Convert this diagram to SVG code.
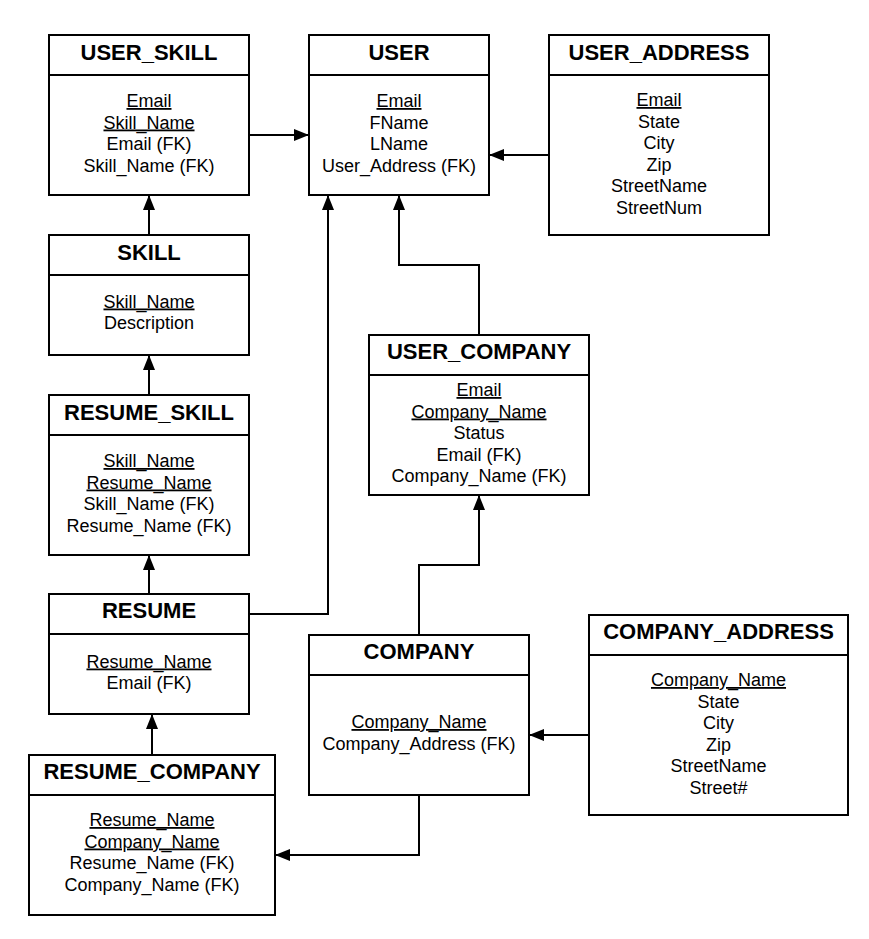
<svg xmlns="http://www.w3.org/2000/svg" width="869" height="939" viewBox="0 0 869 939">
<style>
  .box { fill: #ffffff; stroke: #000000; stroke-width: 2; }
  .div { stroke: #000000; stroke-width: 2; }
  .title { font-family: "Liberation Sans", Arial, sans-serif; font-weight: bold; font-size: 22px; text-anchor: middle; fill: #000; }
  .attr { font-family: "Liberation Sans", Arial, sans-serif; font-size: 18px; text-anchor: middle; fill: #000; }
  .pk { text-decoration: underline; }
  .conn { fill: none; stroke: #000000; stroke-width: 2; marker-end: url(#arrow); }
</style>
<defs>
  <marker id="arrow" viewBox="0 0 15 12" refX="15" refY="6" markerWidth="15" markerHeight="12" markerUnits="userSpaceOnUse" orient="auto">
    <path d="M0,0 L15,6 L0,12 z" fill="#000000"/>
  </marker>
</defs>
<rect x="0" y="0" width="869" height="939" fill="#ffffff"/>

<g id="connectors">
  <path class="conn" d="M249,135 L309,135"/>
  <path class="conn" d="M549,155 L489,155"/>
  <path class="conn" d="M149,235 L149,195"/>
  <path class="conn" d="M149,395 L149,355"/>
  <path class="conn" d="M149,594 L149,555"/>
  <path class="conn" d="M249,614 L328,614 L328,195"/>
  <path class="conn" d="M479,335 L479,265 L399,265 L399,195"/>
  <path class="conn" d="M419,635 L419,565 L479,565 L479,495"/>
  <path class="conn" d="M589,735 L529,735"/>
  <path class="conn" d="M152,755 L152,714"/>
  <path class="conn" d="M419,795 L419,855 L275,855"/>
</g>

<g id="user_skill">
  <rect class="box" x="49" y="35" width="200" height="160"/>
  <line class="div" x1="49" y1="75" x2="249" y2="75"/>
  <text class="title" x="149" y="60">USER_SKILL</text>
  <text class="attr pk" x="149" y="107">Email</text>
  <text class="attr pk" x="149" y="128.5">Skill_Name</text>
  <text class="attr" x="149" y="150">Email (FK)</text>
  <text class="attr" x="149" y="171.5">Skill_Name (FK)</text>
</g>

<g id="user">
  <rect class="box" x="309" y="35" width="180" height="160"/>
  <line class="div" x1="309" y1="75" x2="489" y2="75"/>
  <text class="title" x="399" y="60">USER</text>
  <text class="attr pk" x="399" y="107">Email</text>
  <text class="attr" x="399" y="128.5">FName</text>
  <text class="attr" x="399" y="150">LName</text>
  <text class="attr" x="399" y="171.5">User_Address (FK)</text>
</g>

<g id="user_address">
  <rect class="box" x="549" y="35" width="220" height="200"/>
  <line class="div" x1="549" y1="75" x2="769" y2="75"/>
  <text class="title" x="659" y="60">USER_ADDRESS</text>
  <text class="attr pk" x="659" y="106">Email</text>
  <text class="attr" x="659" y="127.5">State</text>
  <text class="attr" x="659" y="149">City</text>
  <text class="attr" x="659" y="170.5">Zip</text>
  <text class="attr" x="659" y="192">StreetName</text>
  <text class="attr" x="659" y="213.5">StreetNum</text>
</g>

<g id="skill">
  <rect class="box" x="49" y="235" width="200" height="120"/>
  <line class="div" x1="49" y1="275" x2="249" y2="275"/>
  <text class="title" x="149" y="260">SKILL</text>
  <text class="attr pk" x="149" y="307.5">Skill_Name</text>
  <text class="attr" x="149" y="329">Description</text>
</g>

<g id="resume_skill">
  <rect class="box" x="49" y="395" width="200" height="160"/>
  <line class="div" x1="49" y1="435" x2="249" y2="435"/>
  <text class="title" x="149" y="420">RESUME_SKILL</text>
  <text class="attr pk" x="149" y="467">Skill_Name</text>
  <text class="attr pk" x="149" y="488.5">Resume_Name</text>
  <text class="attr" x="149" y="510">Skill_Name (FK)</text>
  <text class="attr" x="149" y="531.5">Resume_Name (FK)</text>
</g>

<g id="user_company">
  <rect class="box" x="369" y="335" width="220" height="160"/>
  <line class="div" x1="369" y1="375" x2="589" y2="375"/>
  <text class="title" x="479" y="359">USER_COMPANY</text>
  <text class="attr pk" x="479" y="396">Email</text>
  <text class="attr pk" x="479" y="417.5">Company_Name</text>
  <text class="attr" x="479" y="439">Status</text>
  <text class="attr" x="479" y="460.5">Email (FK)</text>
  <text class="attr" x="479" y="482">Company_Name (FK)</text>
</g>

<g id="resume">
  <rect class="box" x="49" y="594" width="200" height="120"/>
  <line class="div" x1="49" y1="634" x2="249" y2="634"/>
  <text class="title" x="149" y="618">RESUME</text>
  <text class="attr pk" x="149" y="667.5">Resume_Name</text>
  <text class="attr" x="149" y="689">Email (FK)</text>
</g>

<g id="company">
  <rect class="box" x="309" y="635" width="220" height="160"/>
  <line class="div" x1="309" y1="675" x2="529" y2="675"/>
  <text class="title" x="419" y="659">COMPANY</text>
  <text class="attr pk" x="419" y="728">Company_Name</text>
  <text class="attr" x="419" y="749.5">Company_Address (FK)</text>
</g>

<g id="company_address">
  <rect class="box" x="589" y="615" width="259" height="200"/>
  <line class="div" x1="589" y1="655" x2="848" y2="655"/>
  <text class="title" x="718.5" y="639">COMPANY_ADDRESS</text>
  <text class="attr pk" x="718.5" y="686">Company_Name</text>
  <text class="attr" x="718.5" y="707.5">State</text>
  <text class="attr" x="718.5" y="729">City</text>
  <text class="attr" x="718.5" y="750.5">Zip</text>
  <text class="attr" x="718.5" y="772">StreetName</text>
  <text class="attr" x="718.5" y="793.5">Street#</text>
</g>

<g id="resume_company">
  <rect class="box" x="29" y="755" width="246" height="160"/>
  <line class="div" x1="29" y1="795" x2="275" y2="795"/>
  <text class="title" x="152" y="779">RESUME_COMPANY</text>
  <text class="attr pk" x="152" y="826">Resume_Name</text>
  <text class="attr pk" x="152" y="847.5">Company_Name</text>
  <text class="attr" x="152" y="869">Resume_Name (FK)</text>
  <text class="attr" x="152" y="890.5">Company_Name (FK)</text>
</g>
</svg>
